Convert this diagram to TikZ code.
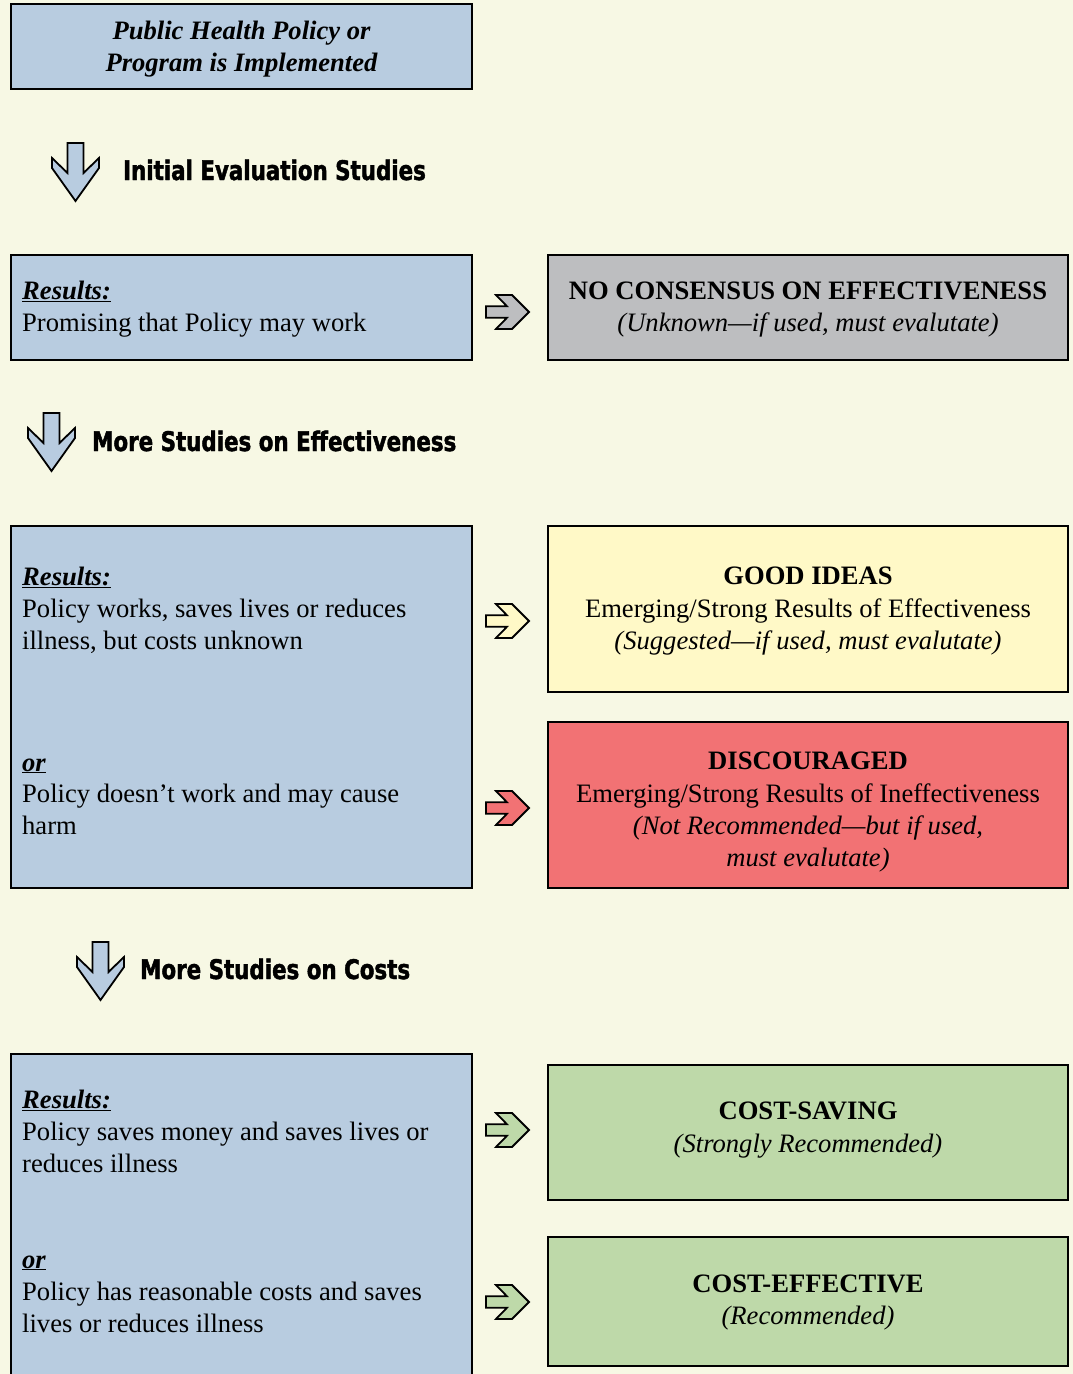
\documentclass[tikz,border=0pt]{standalone}
\usepackage{fontspec}
\setmainfont{Liberation Serif}
\newfontfamily\headfont[FakeStretch=0.88,FakeBold=1.6]{DejaVu Sans Condensed}
\definecolor{bgc}{HTML}{F7F8E4}
\definecolor{bluec}{HTML}{B8CCE0}
\definecolor{grayc}{HTML}{BDBEC0}
\definecolor{yelc}{HTML}{FFF9C7}
\definecolor{redc}{HTML}{F27274}
\definecolor{greenc}{HTML}{BED9A9}
\tikzset{
  box/.style={draw=black, line width=2.4pt, rectangle, inner sep=0pt},
  txt/.style={anchor=base west, inner sep=0pt, font=\fontsize{26.6}{32}\selectfont},
  ctxt/.style={anchor=base, inner sep=0pt, font=\fontsize{26.6}{32}\selectfont},
  head/.style={anchor=base west, inner sep=0pt, font=\headfont\bfseries\fontsize{27}{32}\selectfont},
  rarr/.pic={\draw[line width=1.8pt, line join=miter, fill=#1]
     (-22,-5.7) -- (-1,-5.7) -- (-12,-17) -- (4,-17) -- (21,0) -- (4,17) -- (-12,17) -- (-1,5.7) -- (-22,5.7) -- cycle;},
  darr/.pic={\draw[line width=1.8pt, line join=miter, fill=bluec]
     (-8,0) -- (8,0) -- (8,30) -- (23.5,15) -- (23.5,25) -- (0,58) -- (-23.5,25) -- (-23.5,15) -- (-8,30) -- cycle;}
}
\newcommand{\ulbi}[1]{\underline{\textbf{\textit{#1}}}}
\begin{document}
\begin{tikzpicture}[x=1pt,y=-1pt]
\fill[bgc] (0,0) rectangle (1073,1374);
\useasboundingbox (0,0) rectangle (1073,1374);

% top box
\node[box, fill=bluec, minimum width=461, minimum height=85] (b1) at (241.5,46.5) {};
\node[ctxt, font=\bfseries\itshape\fontsize{26.6}{32}\selectfont] (b1t1) at (241.5,39) {Public Health Policy or};
\node[ctxt, font=\bfseries\itshape\fontsize{26.6}{32}\selectfont] (b1t2) at (241.5,71) {Program is Implemented};

% heading 1
\pic at (75.5,143) {darr};
\node[head] (h1) at (123,180) {Initial Evaluation Studies};

% row 2
\node[box, fill=bluec, minimum width=461, minimum height=105] (b2) at (241.5,307.5) {};
\node[txt] (b2r) at (22,299) {\ulbi{Results:}};
\node[txt] (b2a) at (22,331) {Promising that Policy may work};
\pic at (508,312) {rarr=grayc};
\node[box, fill=grayc, minimum width=520, minimum height=105] (nc) at (808,307.5) {};
\node[ctxt] (nct1) at (808,299) {\textbf{NO CONSENSUS ON EFFECTIVENESS}};
\node[ctxt] (nct2) at (808,331) {\textit{(Unknown—if used, must evalutate)}};

% heading 2
\pic at (51.5,413) {darr};
\node[head] (h2) at (92,451) {More Studies on Effectiveness};

% row 3
\node[box, fill=bluec, minimum width=461, minimum height=362] (b3) at (241.5,707) {};
\node[txt] (b3r) at (22,585) {\ulbi{Results:}};
\node[txt] (b3a) at (22,617) {Policy works, saves lives or reduces};
\node[txt] (b3b) at (22,649) {illness, but costs unknown};
\node[txt] (b3o) at (22,771) {\ulbi{or}};
\node[txt] (b3c) at (22,802) {Policy doesn’t work and may cause};
\node[txt] (b3d) at (22,834) {harm};
\pic at (508,621) {rarr=yelc};
\pic at (508,808) {rarr=redc};
\node[box, fill=yelc, minimum width=520, minimum height=166] (gi) at (808,609) {};
\node[ctxt] (git1) at (808,584) {\textbf{GOOD IDEAS}};
\node[ctxt] (git2) at (808,617) {Emerging/Strong Results of Effectiveness};
\node[ctxt] (git3) at (808,649) {\textit{(Suggested—if used, must evalutate)}};
\node[box, fill=redc, minimum width=520, minimum height=166] (di) at (808,805) {};
\node[ctxt] (dit1) at (808,769) {\textbf{DISCOURAGED}};
\node[ctxt] (dit2) at (808,802) {Emerging/Strong Results of Ineffectiveness};
\node[ctxt] (dit3) at (808,834) {\textit{(Not Recommended—but if used,}};
\node[ctxt] (dit4) at (808,866) {\textit{must evalutate)}};

% heading 3
\pic at (100.5,942) {darr};
\node[head] (h3) at (140,979) {More Studies on Costs};

% row 4
\node[box, fill=bluec, minimum width=461, minimum height=330] (b4) at (241.5,1219) {};
\node[txt] (b4r) at (22,1108) {\ulbi{Results:}};
\node[txt] (b4a) at (22,1140) {Policy saves money and saves lives or};
\node[txt] (b4b) at (22,1172) {reduces illness};
\node[txt] (b4o) at (22,1268) {\ulbi{or}};
\node[txt] (b4c) at (22,1300) {Policy has reasonable costs and saves};
\node[txt] (b4d) at (22,1332) {lives or reduces illness};
\pic at (508,1130) {rarr=greenc};
\pic at (508,1302) {rarr=greenc};
\node[box, fill=greenc, minimum width=520, minimum height=135] (cs) at (808,1132.5) {};
\node[ctxt] (cst1) at (808,1119) {\textbf{COST-SAVING}};
\node[ctxt] (cst2) at (808,1152) {\textit{(Strongly Recommended)}};
\node[box, fill=greenc, minimum width=520, minimum height=129] (ce) at (808,1301.5) {};
\node[ctxt] (cet1) at (808,1292) {\textbf{COST-EFFECTIVE}};
\node[ctxt] (cet2) at (808,1324) {\textit{(Recommended)}};
\end{tikzpicture}
\end{document}
